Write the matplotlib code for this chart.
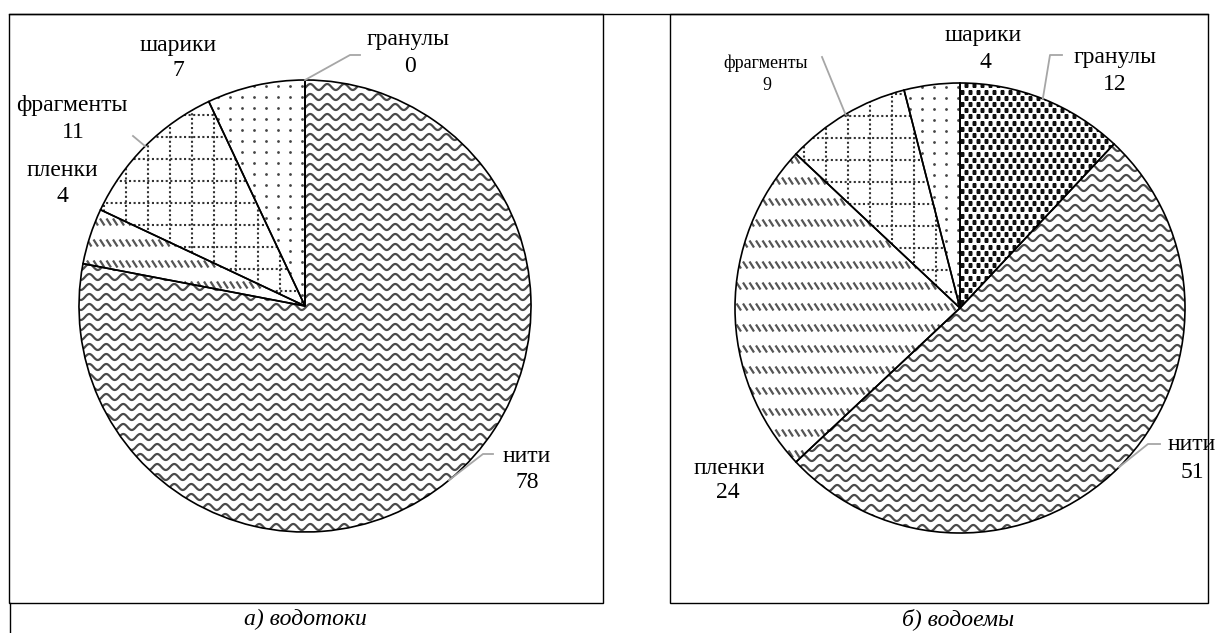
import numpy as np
import matplotlib
matplotlib.use('Agg')
import matplotlib.pyplot as plt
from matplotlib.collections import LineCollection
from matplotlib.patches import Rectangle

plt.rcParams['font.family'] = ['Liberation Serif', 'DejaVu Serif']

W, H = 1216, 633

# данные
categories = ['гранулы', 'нити', 'пленки', 'фрагменты', 'шарики']
vodotoki = [0, 78, 4, 11, 7]
vodoemy = [12, 51, 24, 9, 4]
captions = ['а) водотоки', 'б) водоемы']
textures = ['granules', 'wavy', 'dashes', 'grid', 'dots']


def P(px, py):
    # пиксели картинки -> координаты осей
    return px, H - py


fig = plt.figure(figsize=(W / 100, H / 100), dpi=100)
ax = fig.add_axes([0, 0, 1, 1])


def add_texture(w, kind, cx, cy, r):
    x0, x1 = cx - r - 5, cx + r + 5
    y0, y1 = cy - r - 5, cy + r + 5
    arts = []
    if kind == 'wavy':
        xs = np.arange(x0, x1, 0.7)
        segs = [np.column_stack([xs, y + 3.0 * np.sin(2 * np.pi * xs / 17.0)])
                for y in np.arange(y0, y1, 10.0)]
        arts.append(LineCollection(segs, colors='#4a4a4a', linewidths=1.6))
    elif kind == 'dashes':
        segs = []
        for y in np.arange(y0, y1, 21.0):
            for x in np.arange(x0, x1, 6.5):
                segs.append([(x, y + 3.5), (x + 4.5, y - 3.5)])
        arts.append(LineCollection(segs, colors='#555555', linewidths=1.6))
    elif kind == 'grid':
        segs = [[(x, y0), (x, y1)] for x in np.arange(x0 + 8, x1, 22.0)]
        segs += [[(x0, y), (x1, y)] for y in np.arange(y0 + 4, y1, 22.0)]
        arts.append(LineCollection(segs, colors='#333333', linewidths=1.5,
                                   linestyles=(0, (1, 1.2))))
    elif kind == 'dots':
        gx, gy = np.meshgrid(np.arange(x0, x1, 12.0), np.arange(y0, y1, 11.0))
        arts += ax.plot(gx.ravel(), gy.ravel(), 'o', ms=2.0, color='#444444',
                        mec='none')
    elif kind == 'granules':
        pts = []
        for j, y in enumerate(np.arange(y0, y1, 6.2)):
            for x in np.arange(x0 + (j % 2) * 4.0, x1, 8.0):
                pts.append((x, y))
        pts = np.array(pts)
        arts += ax.plot(pts[:, 0], pts[:, 1], 's', ms=3.2, color='#111111',
                        mec='none')
    for a in arts:
        if isinstance(a, LineCollection):
            ax.add_collection(a)
        a.set_clip_path(w)
        a.set_zorder(2)


def draw_pie(values, center_px, r, labels):
    cx, cy = P(*center_px)
    wedges, _ = ax.pie(values, center=(cx, cy), radius=r, startangle=90,
                       counterclock=False, frame=True,
                       wedgeprops=dict(facecolor='none', edgecolor='black',
                                       linewidth=1.2, zorder=3))
    for w, kind in zip(wedges, textures):
        add_texture(w, kind, cx, cy, r)
    for w, (name, val, name_xy, val_xy, fs, leader) in zip(wedges, [
            (c, v) + lab for c, v, lab in zip(categories, values, labels)]):
        ax.text(*P(*name_xy), name, fontsize=fs, ha='center', va='center')
        ax.text(*P(*val_xy), str(val), fontsize=fs, ha='center', va='center')
        if leader:
            ang = np.deg2rad((w.theta1 + w.theta2) / 2)
            xs = [cx + r * np.cos(ang)] + [P(*p)[0] for p in leader]
            ys = [cy + r * np.sin(ang)] + [P(*p)[1] for p in leader]
            ax.plot(xs, ys, color='#a6a6a6', lw=1.3, zorder=4)


# (подпись, значение, размер шрифта, выноска)
labels_a = [
    ((408, 40), (410, 67), 17, [(350, 55), (360, 55)]),
    ((527, 457), (527, 482), 17, [(483, 454), (493, 454)]),
    ((62, 170), (62, 197), 17, None),
    ((72, 105), (73, 132), 17, [(133, 136)]),
    ((178, 45), (178, 70), 17, None),
]
labels_b = [
    ((1115, 57), (1115, 85), 17, [(1050, 55), (1062, 55)]),
    ((1192, 445), (1192, 472), 17, [(1148, 444), (1160, 444)]),
    ((729, 468), (728, 493), 17, None),
    ((766, 63), (767, 85), 13, [(822, 57)]),
    ((983, 35), (985, 62), 17, None),
]

draw_pie(vodotoki, (305, 306), 226, labels_a)
draw_pie(vodoemy, (960, 308), 225, labels_b)

# рамки
for x_l, x_r in [(9, 603), (670, 1208)]:
    ax.add_patch(Rectangle(P(x_l, 603), x_r - x_l, 589, fill=False,
                           edgecolor='black', lw=1.0, zorder=5))
ax.plot(*zip(P(9, 14), P(1208, 14)), color='black', lw=1.0)
ax.plot(*zip(P(10, 603), P(10, 633)), color='black', lw=1.0)

for cap, x in zip(captions, [305, 958]):
    ax.text(*P(x, 619), cap, fontsize=17, style='italic', ha='center',
            va='center')

ax.set_xlim(0, W)
ax.set_ylim(0, H)
ax.set_aspect('auto')
ax.axis('off')

fig.savefig('out.png', dpi=100)
